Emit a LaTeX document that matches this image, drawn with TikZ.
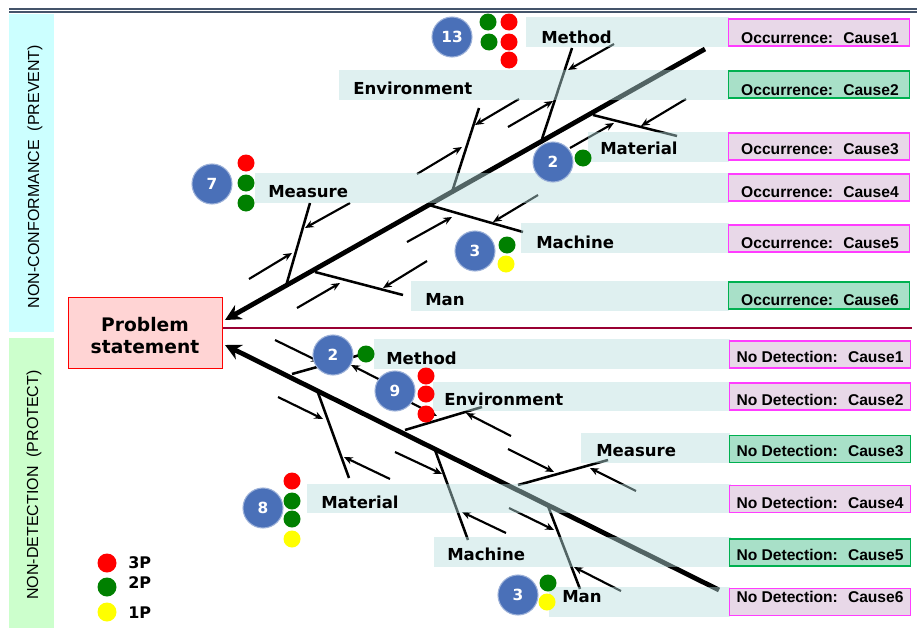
\documentclass[tikz,border=0pt]{standalone}
\usepackage{fontspec}
\setmainfont{DejaVu Sans}
\newfontfamily\arialfont{Liberation Sans}
\usetikzlibrary{arrows.meta}

\definecolor{barblue}{RGB}{68,84,106}
\definecolor{prevcyan}{RGB}{204,255,255}
\definecolor{protgreen}{RGB}{204,255,204}
\definecolor{bandcyan}{RGB}{184,222,222}
\definecolor{lavbox}{RGB}{232,216,232}
\definecolor{lavedge}{RGB}{255,60,255}
\definecolor{mintbox}{RGB}{168,224,200}
\definecolor{mintedge}{RGB}{0,176,80}
\definecolor{probfill}{RGB}{255,212,212}
\definecolor{divred}{RGB}{153,0,51}
\definecolor{scoreblue}{RGB}{74,112,184}
\definecolor{dotred}{RGB}{255,0,0}
\definecolor{dotgreen}{RGB}{0,128,0}
\definecolor{dotyellow}{RGB}{255,255,0}

\begin{document}
\begin{tikzpicture}[x=0.75pt,y=-0.75pt,>={Stealth[length=6.5pt,width=5.5pt]},
	spine/.style={line width=3.6pt,-{Stealth[length=12pt,width=12pt]}},
	rib/.style={line width=1.9pt},
	hint/.style={line width=1.6pt,->},
	band/.style={fill=bandcyan,fill opacity=0.45},
	bandlabel/.style={anchor=base west,inner sep=0pt,font=\bfseries\fontsize{12.4}{14}\selectfont},
	causebox/.style={minimum width=136pt,minimum height=20.25pt,inner sep=0pt,line width=0.9pt},
	causetext/.style={anchor=base,inner sep=0pt,font=\arialfont\bfseries\fontsize{11.7}{14}\selectfont},
	score/.style={circle,fill=scoreblue,draw=scoreblue!55,line width=0.8pt,minimum size=30pt,inner sep=0pt,text=white,font=\bfseries\fontsize{11.5}{13}\selectfont},
	dot/.style={circle,minimum size=12.75pt,inner sep=0pt},
	side/.style={rotate=90,inner sep=0pt,font=\arialfont\fontsize{12}{14}\selectfont}]
	\useasboundingbox (0,0) rectangle (917,628);

	%% Header bars and side strips
	\draw [barblue,line width=1.9pt] (9,9) -- (917,9);
	\draw [barblue,line width=1.5pt] (9,12.3) -- (917,12.3);
	\fill [prevcyan] (9,14) rectangle (54,332);
	\fill [protgreen] (9,338) rectangle (54,628);
	\node [side] (prevent) at (35,176.5) {NON-CONFORMANCE~ (PREVENT)};
	\node [side] (protect) at (34,485) {NON-DETECTION~ (PROTECT)};

	%% Divider
	\draw [divred,line width=1.9pt] (222,328) -- (912,328);

	%% Spines
	\coordinate (occtail) at (705,49);
	\coordinate (occhead) at (225,320);
	\coordinate (dettail) at (719,590);
	\coordinate (dethead) at (225,345);
	\draw [spine] (occtail) -- (occhead);
	\draw [spine] (dettail) -- (dethead);

	%% Occurrence ribs
	\draw [rib] (542,139) -- (572,48);
	\draw [rib] (452,192) -- (479,108);
	\draw [rib] (286,286) -- (310,203);
	\draw [rib] (593,115) -- (677,136);
	\draw [rib] (429,205) -- (523,232);
	\draw [rib] (315,272) -- (403,295);

	%% Detection ribs
	\draw [rib] (292,374) -- (360,355);
	\draw [rib] (405,430) -- (482,407);
	\draw [rib] (518,485) -- (608,460);
	\draw [rib] (317,390) -- (349,478);
	\draw [rib] (435,450) -- (468,540);
	\draw [rib] (548,506) -- (580,589);

	%% Small arrows
	\foreach \xa/\ya/\xb/\yb in {614/44/568/70, 508/127/553/101, 519/99/475/125,
		417/174/462/147, 350/203/305/228, 249/279/292/253, 686/99/641/126,
		570/148/614/123, 538/195/493/222, 407/242/452/217, 427/261/383/288,
		297/308/340/283,
		275/340/320/362, 396/388/351/365, 398/396/437/416, 511/436/466/413,
		508/449/554/472, 636/491/590/468, 278/397/323/419, 390/479/344/457,
		395/452/442/474, 506/533/462/512, 509/508/554/530, 621/591/574/567} {
		\draw [hint] (\xa,\ya) -- (\xb,\yb);
	}

	%% Label bands
	\foreach \xa/\ya/\xb/\yb in {526/17/729/47, 339/70/729/100, 588/132/729/162,
		255/173/729/203, 521/223/729/253, 411/281/729/311,
		374/339/730/369, 433/382/730/411, 581/433/730/463,
		307/484/731/513, 434/537/731/567, 549/587/730/617} {
		\fill [band] (\xa,\ya) rectangle (\xb,\yb);
	}

	%% Band labels
	\node [bandlabel] (omethod) at (541,43) {Method};
	\node [bandlabel] (oenv) at (353,94) {Environment};
	\node [bandlabel] (omat) at (600,154) {Material};
	\node [bandlabel] (omeas) at (268,197) {Measure};
	\node [bandlabel] (omach) at (536,248) {Machine};
	\node [bandlabel] (oman) at (425,305) {Man};
	\node [bandlabel] (dmethod) at (386,364) {Method};
	\node [bandlabel] (denv) at (444,405) {Environment};
	\node [bandlabel] (dmeas) at (596,456) {Measure};
	\node [bandlabel] (dmat) at (321,508) {Material};
	\node [bandlabel] (dmach) at (447,560) {Machine};
	\node [bandlabel] (dman) at (562,602) {Man};

	%% Cause boxes
	\foreach \n/\yc/\yb/\fc/\ec in {1/32.5/43/lavbox/lavedge, 2/84.5/95/mintbox/mintedge,
		3/146.5/154/lavbox/lavedge, 4/187.5/197/lavbox/lavedge,
		5/238.5/248/lavbox/lavedge, 6/295.5/305/mintbox/mintedge} {
		\node [causebox,fill=\fc,draw=\ec] (occ\n) at (819,\yc) {};
		\node [causetext] (occtext\n) at (820,\yb) {Occurrence:~ Cause\n};
	}
	\foreach \n/\yc/\yb/\fc/\ec in {1/354.5/362/lavbox/lavedge, 2/396.5/405/lavbox/lavedge,
		3/449/456/mintbox/mintedge, 4/499/508/lavbox/lavedge,
		5/552.5/560/mintbox/mintedge, 6/602/602/lavbox/lavedge} {
		\node [causebox,fill=\fc,draw=\ec] (det\n) at (820,\yc) {};
		\node [causetext] (dettext\n) at (820,\yb) {No Detection:~ Cause\n};
	}

	%% Problem statement
	\node [draw=red,fill=probfill,minimum width=115.5pt,minimum height=53.25pt,inner sep=0pt]
		(problem) at (145,332.5) {};
	\node [align=center,inner sep=0pt,font=\bfseries\fontsize{14}{16.5}\selectfont]
		(problemtext) at (145,336) {Problem\\statement};

	%% Scores
	\foreach \nm/\x/\y/\v in {sa/452/37/13, sb/212/184/7, sc/553/162/2, sd/475/251/3,
		se/333/355/2, sf/395/391/9, sg/263/508/8, sh/518/595/3} {
		\node [score] (\nm) at (\x,\y) {\v};
	}

	%% Priority dots
	\foreach \x/\y/\c [count=\i] in {488/22/dotgreen, 509/22/dotred, 489/42/dotgreen,
		509/42/dotred, 509/60/dotred, 246/163/dotred, 246/183/dotgreen, 246/203/dotgreen,
		583/158/dotgreen, 507/245/dotgreen, 506/264/dotyellow, 366/354/dotgreen,
		426/376/dotred, 426/394/dotred, 426/414/dotred, 292/481/dotred, 292/501/dotgreen,
		292/519/dotgreen, 292/539/dotyellow, 548/583/dotgreen, 547/602/dotyellow} {
		\node [dot,fill=\c] (dot\i) at (\x,\y) {};
	}

	%% Key
	\foreach \y/\yb/\c/\t in {563/568/dotred/3P, 587/588/dotgreen/2P, 612/618/dotyellow/1P} {
		\node [dot,fill=\c,minimum size=14.25pt] (key\t) at (107,\y) {};
		\node [anchor=base west,inner sep=0pt,font=\bfseries\fontsize{12}{14}\selectfont]
			(keytext\t) at (128,\yb) {\t};
	}
\end{tikzpicture}
\end{document}
